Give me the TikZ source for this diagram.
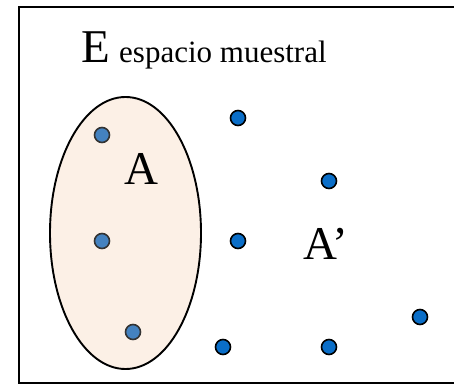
\documentclass[tikz,border=0pt]{standalone}
\usepackage{fontspec}
\setmainfont{Liberation Serif}
\usetikzlibrary{shapes.geometric}
\definecolor{peach}{HTML}{FCF0E6}
\definecolor{indot}{HTML}{4482C0}
\definecolor{outdot}{HTML}{0A6EC8}
\tikzset{
  indotst/.style={circle, draw=black!80, line width=1.6pt, fill=indot, minimum size=15pt, inner sep=0pt},
  outdotst/.style={circle, draw=black, line width=1.6pt, fill=outdot, minimum size=15pt, inner sep=0pt},
  biglbl/.style={font=\fontsize{47}{47}\selectfont, inner sep=0pt},
}
\begin{document}
\begin{tikzpicture}[x=1pt,y=-1pt]
\useasboundingbox (0,0) rectangle (454,385);
\fill[white] (0,0) rectangle (454,385);
\clip (0,0) rectangle (454,385);
\draw[line width=2.4pt] (470,7) -- (19,7) -- (19,383) -- (470,383);
\node[draw, line width=1.9pt, fill=peach, ellipse, minimum width=151pt, minimum height=272pt, inner sep=0pt] (setA) at (125.5,233) {};
\node[biglbl, anchor=base west] (E) at (81,63) {E};
\node[font=\fontsize{31}{31}\selectfont, inner sep=0pt, anchor=base west] (esp) at (119,63) {espacio muestral};
\node[biglbl] (lA) at (141,169) {A};
\node[biglbl] (lAc) at (326,244) {A’};
\node[indotst] (a1) at (102,135) {};
\node[indotst] (a2) at (102,241) {};
\node[indotst] (a3) at (133,332) {};
\node[outdotst] (b1) at (238,118) {};
\node[outdotst] (b2) at (238,241) {};
\node[outdotst] (b3) at (223,347) {};
\node[outdotst] (b4) at (329,181) {};
\node[outdotst] (b5) at (329,347) {};
\node[outdotst] (b6) at (420,317) {};
\end{tikzpicture}
\end{document}
